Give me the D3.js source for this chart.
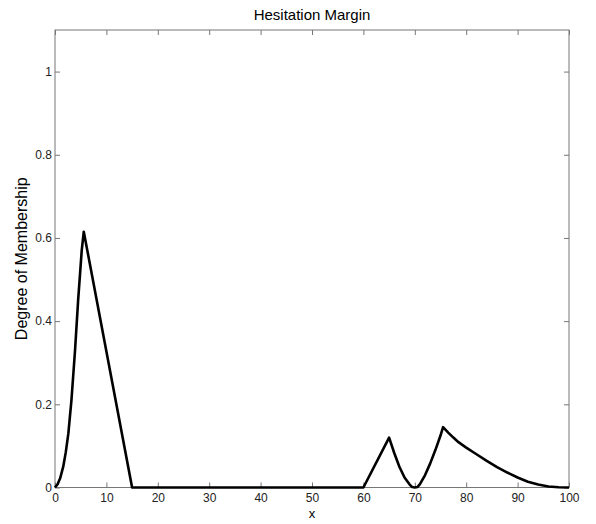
<!DOCTYPE html>
<html>
<head>
<meta charset="utf-8">
<script src="https://cdn.jsdelivr.net/npm/d3@7"></script>
<style>
body { margin: 0; background: #fff; }
text { font-family: "Liberation Sans", Arial, sans-serif; }
</style>
</head>
<body>
<script>
var title = "Hesitation Margin";
var xLabel = "x";
var yLabel = "Degree of Membership";
var xTicks = [0, 10, 20, 30, 40, 50, 60, 70, 80, 90, 100];
var yTicks = [0, 0.2, 0.4, 0.6, 0.8, 1];

// membership curve
var xs = [0, 0.5, 1, 1.6, 2.1, 2.6, 3.2, 3.9, 4.5, 5.2, 5.6, 15, 60, 65, 66, 67, 68, 69, 69.5, 70, 70.5, 71, 72, 73, 74, 75, 75.5, 76.5, 77.5, 78.5, 80, 82, 84, 86, 88, 90, 92, 94, 96, 98, 100];
var ys = [0, 0.008, 0.022, 0.05, 0.085, 0.13, 0.21, 0.33, 0.45, 0.57, 0.615, 0, 0, 0.12, 0.083, 0.05, 0.024, 0.007, 0.001, 0, 0.001, 0.008, 0.03, 0.058, 0.09, 0.125, 0.145, 0.132, 0.12, 0.109, 0.096, 0.08, 0.064, 0.049, 0.036, 0.024, 0.014, 0.007, 0.0025, 0.0005, 0];

var width = 596, height = 524;
var plotL = 55, plotR = 569, plotT = 30, plotB = 487.5;

var svg = d3.select("body").append("svg")
	.attr("width", width)
	.attr("height", height);

var x = d3.scaleLinear().domain([0, 100]).range([plotL, plotR]);
var y = d3.scaleLinear().domain([0, 1.1]).range([plotB, plotT]);

var axisColor = "#777";

// box
svg.append("rect")
	.attr("x", plotL).attr("y", plotT)
	.attr("width", plotR - plotL).attr("height", plotB - plotT)
	.attr("fill", "none").attr("stroke", axisColor).attr("stroke-width", 1);

function styleAxis(g) {
	g.select(".domain").remove();
	g.selectAll("line").attr("stroke", axisColor);
	g.selectAll("text").attr("font-size", "12px").attr("fill", "#222")
		.attr("font-family", "'Liberation Sans', Arial, sans-serif");
}

svg.append("g")
	.attr("transform", "translate(0," + plotB + ")")
	.call(d3.axisBottom(x).tickValues(xTicks).tickSize(-5).tickPadding(6).tickFormat(d3.format("d")))
	.call(styleAxis);

svg.append("g")
	.attr("transform", "translate(0," + plotT + ")")
	.call(d3.axisTop(x).tickValues(xTicks).tickSize(-5).tickFormat(""))
	.call(styleAxis);

svg.append("g")
	.attr("transform", "translate(" + plotL + ",0)")
	.call(d3.axisLeft(y).tickValues(yTicks).tickSize(-5).tickPadding(3).tickFormat(function(d) { return d === 0 || d === 1 ? d : d3.format(".1f")(d); }))
	.call(styleAxis);

svg.append("g")
	.attr("transform", "translate(" + plotR + ",0)")
	.call(d3.axisRight(y).tickValues(yTicks).tickSize(-5).tickFormat(""))
	.call(styleAxis);

var pts = xs.map(function(d, i) { return [d, ys[i]]; });

var line = d3.line()
	.x(function(d) { return x(d[0]); })
	.y(function(d) { return y(d[1]); });

svg.append("path")
	.datum(pts)
	.attr("d", line)
	.attr("fill", "none")
	.attr("stroke", "#000")
	.attr("stroke-width", 2.6)
	.attr("stroke-linejoin", "round");

svg.append("text")
	.attr("x", (plotL + plotR) / 2).attr("y", 20)
	.attr("text-anchor", "middle")
	.attr("font-size", "15px")
	.text(title);

svg.append("text")
	.attr("x", (plotL + plotR) / 2).attr("y", 518)
	.attr("text-anchor", "middle")
	.attr("font-size", "13px")
	.text(xLabel);

svg.append("text")
	.attr("transform", "translate(27," + ((plotT + plotB) / 2) + ")rotate(-90)")
	.attr("text-anchor", "middle")
	.attr("font-size", "16px")
	.text(yLabel);
</script>
</body>
</html>
